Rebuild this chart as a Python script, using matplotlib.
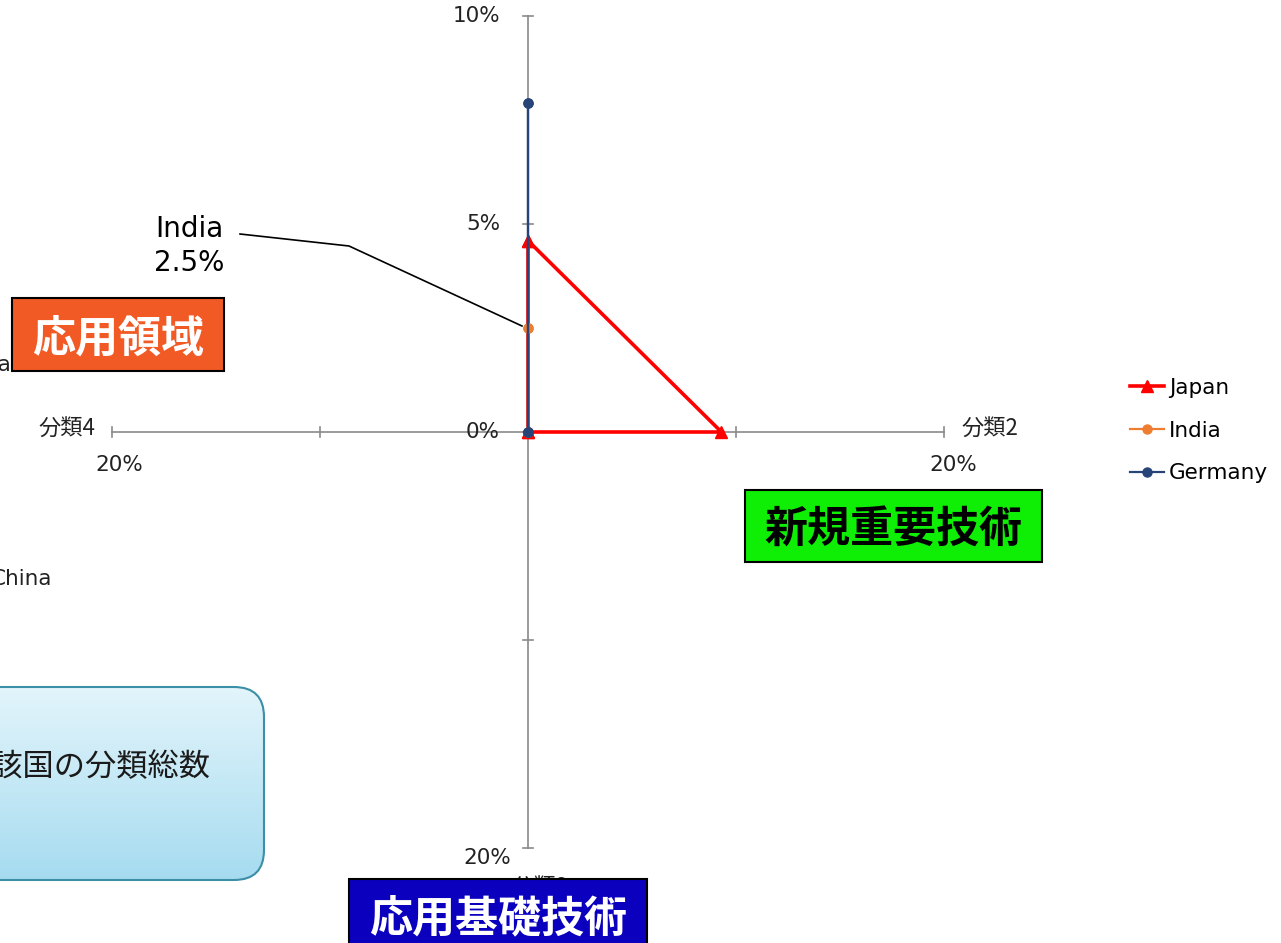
import matplotlib.pyplot as plt
import numpy as np
from matplotlib.patches import FancyBboxPatch, Rectangle

# radar data: axes order = up (分類1), right (分類2), down (分類3), left (分類4)
axis_names = ["分類1", "分類2", "分類3", "分類4"]
axis_max = [10, 20, 20, 20]          # percent at the end of each spoke
japan = [4.6, 9.3, 0.0, 0.0]
india = [2.5, 0.0, 0.0, 0.0]
germany = [7.9, 0.0, 0.0, 0.0]
series_names = ["Japan", "India", "Germany"]
series_colors = ["#FF0000", "#ED7D31", "#264478"]
up_ticks = [0, 5, 10]
spoke_ticks = [10, 20]

plt.rcParams['font.family'] = ['DejaVu Sans', 'Noto Sans CJK JP']
JP = ['Noto Sans CJK JP', 'DejaVu Sans']

W, H = 1281, 943
CX, CY, R = 528, 432, 416   # centre of the radar and spoke length in pixels

fig = plt.figure(figsize=(W / 100, H / 100), dpi=100)
ax = fig.add_axes([0, 0, 1, 1])
ax.axis('off')

dirs = [(0, 1), (1, 0), (0, -1), (-1, 0)]


def px(x, y):
    # pixel position in the picture -> radar units
    return (x - CX) / R, (CY - y) / R


def to_xy(vals):
    xs = [d[0] * v / m for d, v, m in zip(dirs, vals, axis_max)]
    ys = [d[1] * v / m for d, v, m in zip(dirs, vals, axis_max)]
    return xs + xs[:1], ys + ys[:1]


# spokes with tick marks
gray = "#8A8A8A"
tk = 5 / R
for (dx, dy), m in zip(dirs, axis_max):
    ax.plot([0, dx], [0, dy], color=gray, lw=1.2, zorder=1)
    ticks = up_ticks if dy == 1 else spoke_ticks
    for t in ticks:
        r = t / m
        ax.plot([dx * r - dy * tk, dx * r + dy * tk],
                [dy * r - dx * tk, dy * r + dx * tk], color=gray, lw=1.2, zorder=1)

# series
xs, ys = to_xy(japan)
l1, = ax.plot(xs, ys, color=series_colors[0], lw=2.6, marker='^', ms=9, zorder=3)
xs, ys = to_xy(india)
l2, = ax.plot(xs, ys, color=series_colors[1], lw=1.6, marker='o', ms=6.5, zorder=4)
xs, ys = to_xy(germany)
l3, = ax.plot(xs, ys, color=series_colors[2], lw=1.6, marker='o', ms=6.5, zorder=5)

# axis value labels
tc = "#222222"
fs = 15.5
cfs = 16
for t in up_ticks:
    ax.text(-28 / R, t / axis_max[0], f"{t}%", ha='right', va='center', fontsize=fs, color=tc)
ax.text(*px(961, 429), axis_names[1], ha='left', va='center', fontsize=cfs, color=tc, family=JP)
ax.text(*px(953, 465), f"{axis_max[1]}%", ha='center', va='center', fontsize=fs, color=tc)
ax.text(*px(96, 429), axis_names[3], ha='right', va='center', fontsize=cfs, color=tc, family=JP)
ax.text(*px(119, 465), f"{axis_max[3]}%", ha='center', va='center', fontsize=fs, color=tc)
ax.text(*px(487, 858), f"{axis_max[2]}%", ha='center', va='center', fontsize=fs, color=tc)
ax.text(*px(540, 888), axis_names[2], ha='center', va='center', fontsize=cfs, color=tc,
        family=JP, zorder=1)

# cropped labels of other series at the left edge
ax.text(*px(12, 365), "Korea", ha='right', va='center', fontsize=fs, color=tc)
ax.text(*px(52, 579), "China", ha='right', va='center', fontsize=fs, color=tc)

# India data label with leader line
iy = india[0] / axis_max[0]
ax.plot([px(240, 0)[0], px(349, 0)[0], -6 / R], [px(0, 234)[1], px(0, 246)[1], iy + 2 / R],
        color='black', lw=1.2, zorder=2)
ax.text(*px(189, 246), f"India\n{india[0]}%", ha='center', va='center', fontsize=20,
        color='black', linespacing=1.3)


def label_box(x0, y0, x1, y1, face, text, tcolor, ty=None):
    bx, by = px(x0, y1)
    w, h = (x1 - x0) / R, (y1 - y0) / R
    ax.add_patch(Rectangle((bx, by), w, h, facecolor=face, edgecolor='black', lw=1.5, zorder=6))
    if ty is None:
        ty = (y0 + y1) / 2 + 4
    ax.text(bx + w / 2, px(0, ty)[1], text, ha='center', va='center', fontsize=31,
            fontweight='bold', color=tcolor, family=JP, zorder=7)


label_box(12, 298, 224, 371, "#F15A24", "応用領域", "white")
label_box(745, 490, 1042, 562, "#0EEF05", "新規重要技術", "black")
label_box(349, 879, 647, 960, "#0A00BE", "応用基礎技術", "white", ty=918)

# rounded gradient note box (cut off at the left edge)
bx0, by0 = px(-40, 880)
bw, bh = 304 / R, 193 / R
note = FancyBboxPatch((bx0, by0), bw, bh, boxstyle=f"round,pad=0,rounding_size={30 / R}",
                      facecolor='none', edgecolor='#3B8FA6', lw=1.5, zorder=6)
ax.add_patch(note)
grad = np.linspace(0, 1, 256).reshape(-1, 1)
top, bot = np.array([0.89, 0.96, 0.985]), np.array([0.65, 0.86, 0.94])
img = top + (bot - top) * grad[:, :, None]
im = ax.imshow(img, extent=(bx0, bx0 + bw, by0, by0 + bh), origin='upper', aspect='auto', zorder=5)
im.set_clip_path(note)
ax.text(*px(210, 767), "当該国の分類総数", ha='right', va='center', fontsize=22.5,
        color='#1A1A1A', family=JP, zorder=7)

ax.legend([l1, l2, l3], series_names, loc='upper left', frameon=False,
          bbox_to_anchor=(1130 / W, 1 - 378 / H), fontsize=15.5, handlelength=1.6,
          handletextpad=0.2, labelspacing=1.05, borderpad=0, borderaxespad=0)

ax.set_xlim(-CX / R, (W - CX) / R)
ax.set_ylim(-(H - CY) / R, CY / R)
fig.savefig("out.png", dpi=100)
